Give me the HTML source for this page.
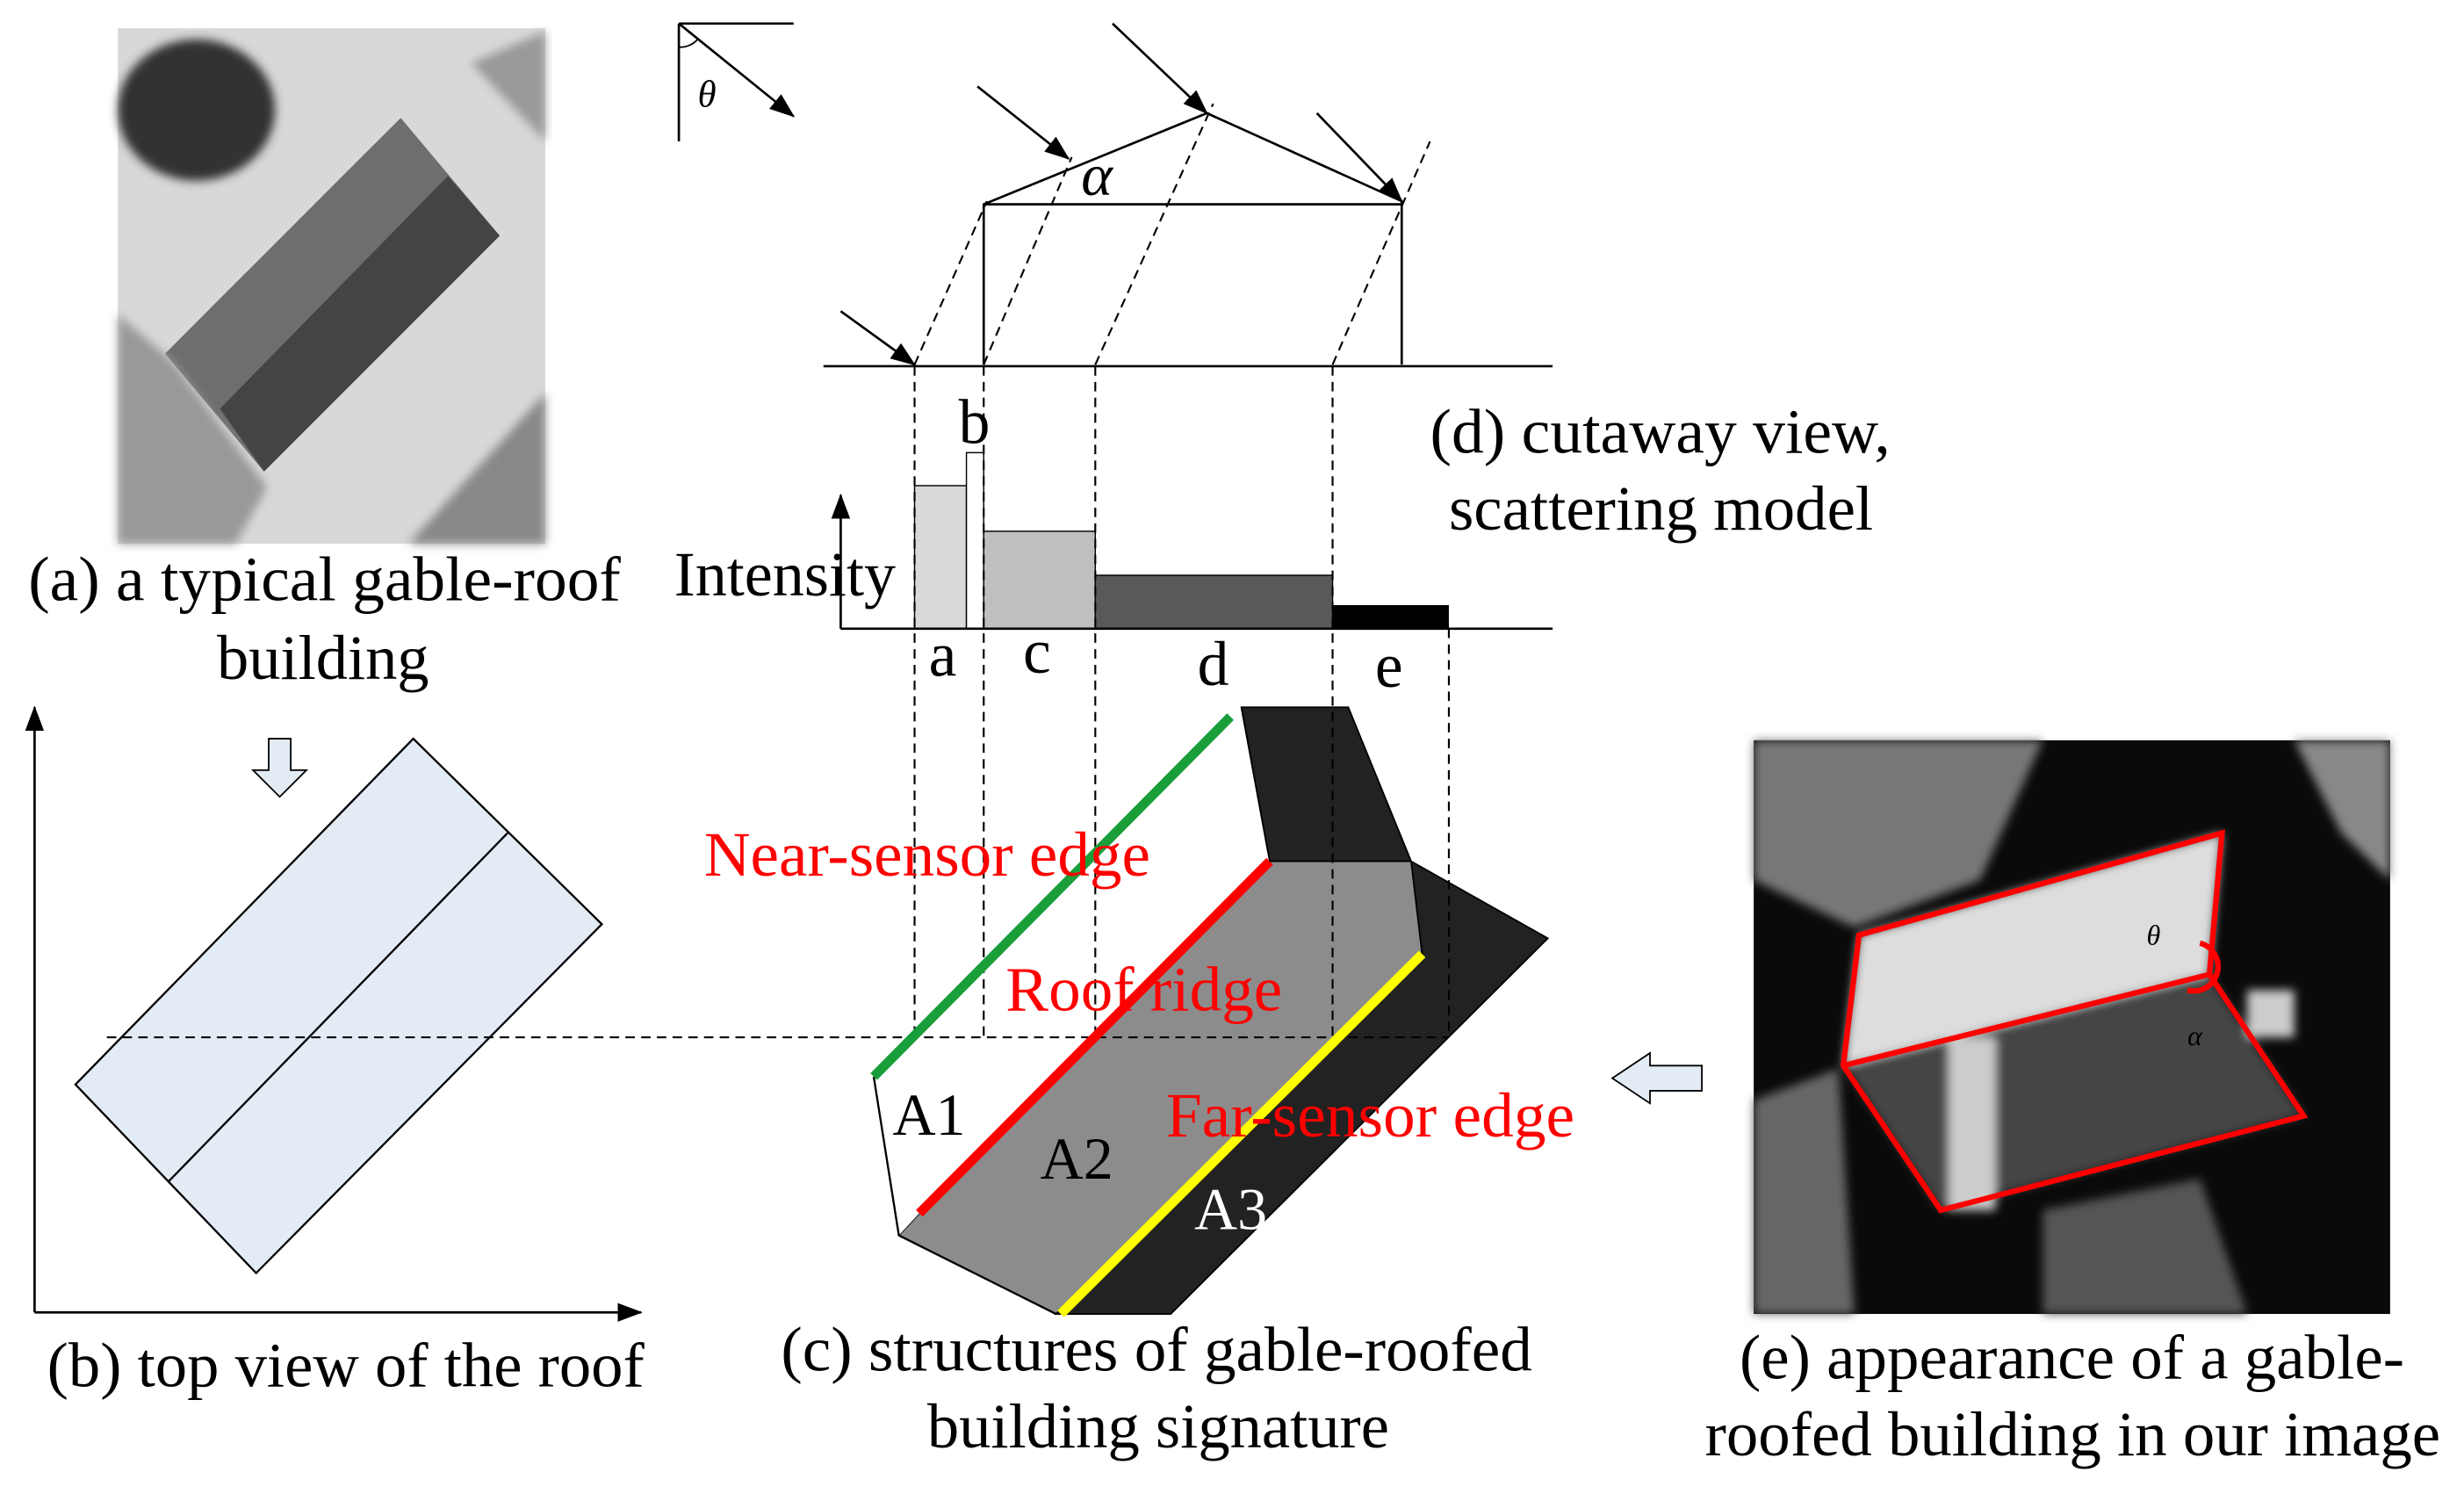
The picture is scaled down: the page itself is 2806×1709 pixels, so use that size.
<!DOCTYPE html>
<html><head><meta charset="utf-8"><style>html,body{margin:0;padding:0;background:#fff}svg{display:block}</style></head>
<body>
<svg width="2806" height="1709" viewBox="0 0 1568 955" xmlns="http://www.w3.org/2000/svg" font-family="Liberation Serif, serif">
<defs>
<marker id="ab" markerWidth="16" markerHeight="12" refX="15" refY="6" orient="auto" markerUnits="userSpaceOnUse"><path d="M0,0 L16,6 L0,12 z"/></marker>
<filter id="blur"><feGaussianBlur stdDeviation="3"/></filter>
</defs>
<!-- (a) photo -->
<g>
<rect x="75" y="18" width="272" height="328" fill="#d8d8d8"/>
<ellipse cx="125" cy="70" rx="50" ry="45" fill="#333" filter="url(#blur)"/>
<polygon points="105,225 255,75 318,150 168,300" fill="#6e6e6e"/>
<polygon points="140,260 285,112 318,150 168,300" fill="#444"/>
<polygon points="75,200 110,230 170,310 150,346 75,346" fill="#999" filter="url(#blur)"/>
<polygon points="260,346 347,250 347,346" fill="#888" filter="url(#blur)"/>
<polygon points="300,40 347,20 347,90" fill="#999" filter="url(#blur)"/>
</g>
<!-- theta indicator -->
<line x1="432" y1="15" x2="505" y2="15" stroke="#000" stroke-width="1.5"/>
<line x1="432" y1="15" x2="432" y2="90" stroke="#000" stroke-width="1.5"/>
<line x1="432" y1="15" x2="505" y2="74" stroke="#000" stroke-width="1.5" marker-end="url(#ab)"/>
<path d="M432,30 A15,15 0 0 0 444,25" fill="none" stroke="#000"/>
<text x="444" y="68" font-size="24" font-style="italic">θ</text>
<g stroke="#000" stroke-width="1.5">
<line x1="622" y1="55" x2="680" y2="101" marker-end="url(#ab)"/>
<line x1="708" y1="15" x2="768" y2="72" marker-end="url(#ab)"/>
<line x1="838" y1="72" x2="892" y2="128" marker-end="url(#ab)"/>
<line x1="535" y1="198" x2="582" y2="232" marker-end="url(#ab)"/>
</g>
<g stroke="#000" stroke-width="1.5" fill="none">
<polyline points="626,232 626,130 768,72 892,128 892,232"/>
<line x1="626" y1="130" x2="892" y2="130"/>
<line x1="524" y1="233" x2="988" y2="233"/>
</g>
<text x="688" y="124" font-size="38" font-style="italic">α</text>
<!-- histogram -->
<rect x="582" y="309" width="33" height="91" fill="#d9d9d9" stroke="#000" stroke-width=".8"/>
<rect x="615" y="288" width="11" height="112" fill="#fff" stroke="#000" stroke-width=".8"/>
<rect x="626" y="338" width="71" height="62" fill="#bfbfbf" stroke="#000" stroke-width=".8"/>
<rect x="697" y="366" width="151" height="34" fill="#595959" stroke="#000" stroke-width=".8"/>
<rect x="848" y="385" width="74" height="15" fill="#000"/>
<line x1="535" y1="400" x2="535" y2="315" stroke="#000" stroke-width="1.5" marker-end="url(#ab)"/>
<line x1="535" y1="400" x2="988" y2="400" stroke="#000" stroke-width="1.5"/>
<!-- (b) -->
<line x1="22" y1="835" x2="22" y2="450" stroke="#000" stroke-width="1.5" marker-end="url(#ab)"/>
<line x1="22" y1="835" x2="408" y2="835" stroke="#000" stroke-width="1.5" marker-end="url(#ab)"/>
<polygon points="48,690 263,470 383,588 163,810" fill="#e3ebf5" stroke="#000" stroke-width="1.3"/>
<line x1="107" y1="752" x2="323" y2="530" stroke="#000" stroke-width="1.3"/>
<!-- building (c) -->
<polygon points="790,450 858,450 898,548 808,548" fill="#222" stroke="#000"/>
<polygon points="898,548 985,597 745,836 672,836 905,607" fill="#222" stroke="#000"/>
<polygon points="808,548 898,548 905,607 672,836 572,786 585,772" fill="#8c8c8c" stroke="#000"/>
<polygon points="556,685 783,456 808,548 585,772 572,786" fill="#fff"/>
<line x1="556" y1="685" x2="572" y2="786" stroke="#000" stroke-width="1.3"/>
<line x1="572" y1="786" x2="672" y2="836" stroke="#000" stroke-width="1.3"/>
<line x1="790" y1="450" x2="808" y2="548" stroke="#000"/>
<g stroke="#000" stroke-width="1.2" stroke-dasharray="6,4" fill="none">
<line x1="582" y1="232" x2="628" y2="128"/>
<line x1="626" y1="232" x2="682" y2="100"/>
<line x1="697" y1="232" x2="772" y2="66"/>
<line x1="848" y1="232" x2="910" y2="90"/>
<line x1="582" y1="233" x2="582" y2="660"/>
<line x1="626" y1="233" x2="626" y2="660"/>
<line x1="697" y1="233" x2="697" y2="660"/>
<line x1="848" y1="233" x2="848" y2="660"/>
<line x1="922" y1="400" x2="922" y2="660"/>
<line x1="68" y1="660" x2="922" y2="660"/>
</g>
<line x1="556" y1="685" x2="783" y2="456" stroke="#1a9e3a" stroke-width="6"/>
<line x1="585" y1="772" x2="808" y2="548" stroke="#f00" stroke-width="6"/>
<line x1="675" y1="836" x2="905" y2="607" stroke="#ff0" stroke-width="6"/>
<g font-size="40" lengthAdjust="spacingAndGlyphs">
<text x="610" y="282">b</text>
<text x="591" y="430">a</text>
<text x="651" y="428">c</text>
<text x="762" y="436">d</text>
<text x="875" y="437">e</text>
<text x="429" y="379" textLength="141" lengthAdjust="spacingAndGlyphs">Intensity</text>
<text x="910" y="288" textLength="293" lengthAdjust="spacingAndGlyphs">(d) cutaway view,</text>
<text x="922" y="337" textLength="270" lengthAdjust="spacingAndGlyphs">scattering model</text>
<text x="18" y="382" textLength="377" lengthAdjust="spacingAndGlyphs">(a) a typical gable-roof</text>
<text x="138" y="432" textLength="135" lengthAdjust="spacingAndGlyphs">building</text>
<text x="30" y="882" textLength="380" lengthAdjust="spacingAndGlyphs">(b) top view of the roof</text>
<text x="497" y="872" textLength="478" lengthAdjust="spacingAndGlyphs">(c) structures of gable-roofed</text>
<text x="590" y="921" textLength="294" lengthAdjust="spacingAndGlyphs">building signature</text>
<text x="1107" y="877" textLength="423" lengthAdjust="spacingAndGlyphs">(e) appearance of a gable-</text>
<text x="1085" y="926" textLength="468" lengthAdjust="spacingAndGlyphs">roofed building in our image</text>
</g>
<g font-size="40" fill="#f00">
<text x="448" y="557" textLength="284" lengthAdjust="spacingAndGlyphs">Near-sensor edge</text>
<text x="640" y="643" textLength="176" lengthAdjust="spacingAndGlyphs">Roof ridge</text>
<text x="742" y="723" textLength="260" lengthAdjust="spacingAndGlyphs">Far-sensor edge</text>
</g>
<g font-size="38">
<text x="568" y="722">A1</text>
<text x="662" y="750">A2</text>
<text x="760" y="782" fill="#fff">A3</text>
</g>
<!-- hollow arrows -->
<path d="M171,470 L185,470 L185,490 L195,490 L178,507 L161,490 L171,490 Z" fill="#e3ebf5" stroke="#000"/>
<path d="M1083,678 L1050,678 L1050,670 L1026,686 L1050,702 L1050,694 L1083,694 Z" fill="#e3ebf5" stroke="#000"/>
<!-- (e) photo -->
<rect x="1116" y="471" width="405" height="365" fill="#0a0a0a"/>
<g filter="url(#blur)">
<polygon points="1116,471 1300,471 1260,560 1180,590 1116,560" fill="#777"/>
<polygon points="1183,595 1414,530 1406,620 1173,678" fill="#ddd"/>
<polygon points="1173,678 1406,620 1466,710 1235,770" fill="#444"/>
<rect x="1240" y="660" width="30" height="110" fill="#ccc"/>
<polygon points="1460,471 1521,471 1521,560 1490,530" fill="#888"/>
<polygon points="1300,770 1400,750 1430,836 1300,836" fill="#555"/>
<polygon points="1116,700 1170,680 1180,836 1116,836" fill="#666"/>
<rect x="1430" y="630" width="30" height="30" fill="#ccc"/>
</g>
<g stroke="#f00" stroke-width="3.5" fill="none">
<polygon points="1183,595 1414,530 1406,620 1466,710 1235,770 1173,678"/>
<line x1="1173" y1="678" x2="1406" y2="620"/>
<path d="M1400,600 A15,15 0 0 1 1392,630"/>
</g>
<text x="1366" y="601" font-size="18" font-style="italic" fill="#000">θ</text>
<text x="1392" y="665" font-size="18" font-style="italic" fill="#000">α</text>
</svg>
</body></html>
